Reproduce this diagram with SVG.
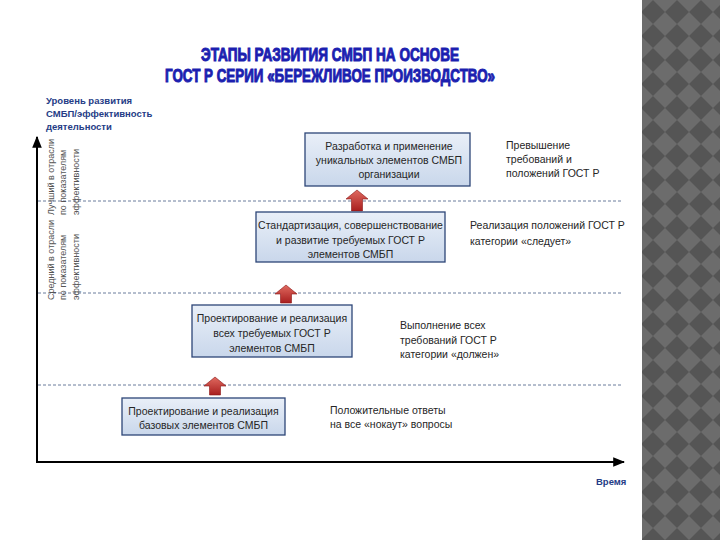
<svg xmlns="http://www.w3.org/2000/svg" width="720" height="540" viewBox="0 0 720 540">
<defs>
  <pattern id="diam" x="641" y="0" width="24" height="24" patternUnits="userSpaceOnUse">
    <rect width="24" height="24" fill="#6c6c6c"/>
    <polygon points="12,0 24,12 12,24 0,12" fill="#555555"/>
  </pattern>
  <linearGradient id="boxg" x1="0" y1="0" x2="0" y2="1">
    <stop offset="0" stop-color="#e9eff8"/>
    <stop offset="1" stop-color="#c9d7eb"/>
  </linearGradient>
  <linearGradient id="arrg" x1="0" y1="0" x2="0" y2="1">
    <stop offset="0" stop-color="#e06a60"/>
    <stop offset="1" stop-color="#a81e1e"/>
  </linearGradient>
  <marker id="ah" viewBox="0 0 10 10" refX="9" refY="5" markerWidth="6" markerHeight="6" orient="auto">
    <path d="M0,1 L10,5 L0,9 Z" fill="#000"/>
  </marker>
  <style>
    .title{font-family:"Liberation Sans Narrow","Liberation Sans",sans-serif;font-weight:bold;font-size:18px;fill:#1c1fb0;stroke:#1c1fb0;stroke-width:1}
    .ylab{font-family:"Liberation Sans",sans-serif;font-weight:bold;font-size:9.5px;fill:#253c86}
    .rot{font-family:"Liberation Sans",sans-serif;font-size:9px;fill:#555}
    .box{fill:url(#boxg);stroke:#2d4677;stroke-width:1.3}
    .bt{font-family:"Liberation Sans",sans-serif;font-size:10.5px;fill:#262626;text-anchor:middle}
    .rt{font-family:"Liberation Sans",sans-serif;font-size:10.5px;fill:#262626}
    .dash{stroke:#6a7c9c;stroke-width:1;stroke-dasharray:3,2;fill:none}
    .axis{stroke:#000;stroke-width:2;fill:none}
    .arr{fill:url(#arrg);stroke:#8a1515;stroke-width:0.6}
  </style>
</defs>
<rect width="720" height="540" fill="#fff"/>
<rect x="642" y="0" width="78" height="540" fill="url(#diam)"/>

<g id="title">
  <text class="title" x="201" y="61" textLength="258" lengthAdjust="spacingAndGlyphs">ЭТАПЫ РАЗВИТИЯ СМБП НА ОСНОВЕ</text>
  <text class="title" x="165" y="82" textLength="330" lengthAdjust="spacingAndGlyphs">ГОСТ Р СЕРИИ «БЕРЕЖЛИВОЕ ПРОИЗВОДСТВО»</text>
</g>

<g id="y-label">
  <text class="ylab" x="46" y="104">Уровень развития</text>
  <text class="ylab" x="46" y="117">СМБП/эффективность</text>
  <text class="ylab" x="46" y="130">деятельности</text>
</g>

<g id="connectors">
  <line class="dash" x1="38" y1="201" x2="622" y2="201"/>
  <line class="dash" x1="38" y1="293" x2="622" y2="293"/>
  <line class="dash" x1="38" y1="385" x2="622" y2="385"/>
  <line class="axis" x1="37" y1="462" x2="37" y2="137" marker-end="url(#ah)"/>
  <line class="axis" x1="36" y1="462" x2="624" y2="462" marker-end="url(#ah)"/>
  <path class="arr" d="M215,377 L226,386 L220.5,386 L220.5,395 L209.5,395 L209.5,386 L204,386 Z"/>
  <path class="arr" d="M286,285 L297,294 L291.5,294 L291.5,303 L280.5,303 L280.5,294 L275,294 Z"/>
  <path class="arr" d="M357,190 L368,199 L362.5,199 L362.5,211 L351.5,211 L351.5,199 L346,199 Z"/>
</g>

<g id="level-best">
  <text class="rot" transform="translate(54,215) rotate(-90)">Лучший в отрасли</text>
  <text class="rot" transform="translate(66,215) rotate(-90)">по показателям</text>
  <text class="rot" transform="translate(79,215) rotate(-90)">эффективности</text>
</g>
<g id="level-avg">
  <text class="rot" transform="translate(54,300) rotate(-90)">Средний в отрасли</text>
  <text class="rot" transform="translate(66,300) rotate(-90)">по показателям</text>
  <text class="rot" transform="translate(79,300) rotate(-90)">эффективности</text>
</g>

<g id="box1">
  <rect class="box" x="305" y="133" width="165" height="53"/>
  <text class="bt" x="389" y="150">Разработка и применение</text>
  <text class="bt" x="389" y="164">уникальных элементов СМБП</text>
  <text class="bt" x="389" y="178">организации</text>
</g>
<g id="note1">
  <text class="rt" x="506" y="149">Превышение</text>
  <text class="rt" x="506" y="163">требований и</text>
  <text class="rt" x="506" y="177">положений ГОСТ Р</text>
</g>

<g id="box2">
  <rect class="box" x="256" y="212" width="189" height="50"/>
  <text class="bt" x="350.5" y="229">Стандартизация, совершенствование</text>
  <text class="bt" x="350.5" y="244">и развитие требуемых ГОСТ Р</text>
  <text class="bt" x="350.5" y="258">элементов СМБП</text>
</g>
<g id="note2">
  <text class="rt" x="470" y="229">Реализация положений ГОСТ Р</text>
  <text class="rt" x="470" y="245">категории «следует»</text>
</g>

<g id="box3">
  <rect class="box" x="192" y="305" width="160" height="52"/>
  <text class="bt" x="272" y="322">Проектирование и реализация</text>
  <text class="bt" x="272" y="337">всех требуемых ГОСТ Р</text>
  <text class="bt" x="272" y="352">элементов СМБП</text>
</g>
<g id="note3">
  <text class="rt" x="400" y="329">Выполнение всех</text>
  <text class="rt" x="400" y="344">требований ГОСТ Р</text>
  <text class="rt" x="400" y="358">категории «должен»</text>
</g>

<g id="box4">
  <rect class="box" x="122" y="398" width="163" height="37"/>
  <text class="bt" x="203.5" y="415">Проектирование и реализация</text>
  <text class="bt" x="203.5" y="429">базовых элементов СМБП</text>
</g>
<g id="note4">
  <text class="rt" x="330" y="414">Положительные ответы</text>
  <text class="rt" x="330" y="428">на все «нокаут» вопросы</text>
</g>

<g id="x-label">
  <text class="ylab" x="596" y="485">Время</text>
</g>
</svg>
